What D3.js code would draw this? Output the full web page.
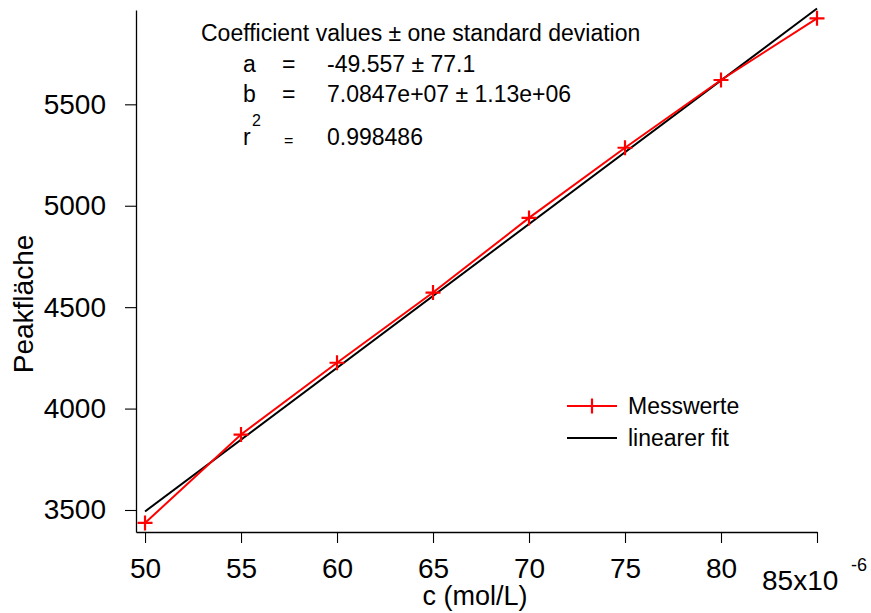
<!DOCTYPE html>
<html>
<head>
<meta charset="utf-8">
<script src="https://cdn.jsdelivr.net/npm/d3@7"></script>
<style>
html,body{margin:0;padding:0;background:#fff;}
svg{display:block;font-family:"Liberation Sans",Arial,Helvetica,sans-serif;}
</style>
</head>
<body>
<svg id="chart" width="871" height="613"></svg>
<script>
// Data (concentration in units of 1e-6 mol/L)
const concentrations = [50, 55, 60, 65, 70, 75, 80, 85];
const peakAreas = [3436, 3872, 4226, 4572, 4940, 5286, 5620, 5924];
const fitA = -49.557;
const fitB = 7.0847e7;
const xTicks = [50, 55, 60, 65, 70, 75, 80, 85];
const yTicks = [3500, 4000, 4500, 5000, 5500];
const coefLines = [
  {name: "a", value: "-49.557 \u00b1 77.1"},
  {name: "b", value: "7.0847e+07 \u00b1 1.13e+06"}
];
const r2Value = "0.998486";
const legendItems = [
  {label: "Messwerte", color: "#ff0000", marker: true},
  {label: "linearer fit", color: "#000000", marker: false}
];

const svg = d3.select("#chart");
const x = d3.scaleLinear().domain([49.53, 85]).range([136, 817]);
const y = d3.scaleLinear().domain([3391.5, 5965]).range([532, 10]);

// Axes
const xAxis = d3.axisBottom(x).tickValues(xTicks).tickSizeInner(11).tickSizeOuter(0)
  .tickPadding(10).tickFormat(d => d === 85 ? "" : d);
const gx = svg.append("g").attr("transform", "translate(0,532)").call(xAxis);
gx.select(".domain").attr("stroke", "#000").attr("stroke-width", 1.3);
gx.selectAll(".tick line").attr("stroke", "#000").attr("stroke-width", 1.1);
gx.selectAll(".tick text").attr("font-size", 28).attr("fill", "#000")
  .attr("dy", null).attr("y", 46);

const yAxis = d3.axisLeft(y).tickValues(yTicks).tickSizeInner(11).tickSizeOuter(0)
  .tickPadding(19).tickFormat(d => d);
const gy = svg.append("g").attr("transform", "translate(136,0)").call(yAxis);
gy.select(".domain").attr("stroke", "#000").attr("stroke-width", 1.3);
gy.selectAll(".tick line").attr("stroke", "#000").attr("stroke-width", 1.1);
gy.selectAll(".tick text").attr("font-size", 28).attr("fill", "#000");

// 85x10^-6 label
svg.append("text").attr("x", 762).attr("y", 590)
  .attr("font-size", 28).text("85x10");
svg.append("text").attr("x", 851).attr("y", 571)
  .attr("font-size", 18).text("-6");

// Axis titles
svg.append("text").attr("x", 475).attr("y", 605).attr("text-anchor", "middle")
  .attr("font-size", 27).text("c (mol/L)");
svg.append("text").attr("transform", "translate(33,304) rotate(-90)")
  .attr("text-anchor", "middle").attr("font-size", 28).text("Peakfläche");

// Fit line
const fitPts = [concentrations[0], concentrations[concentrations.length - 1]]
  .map(c => [c, fitA + fitB * c * 1e-6]);
const line = d3.line().x(d => x(d[0])).y(d => y(d[1]));
svg.append("path").datum(fitPts).attr("d", line)
  .attr("fill", "none").attr("stroke", "#000").attr("stroke-width", 2);

// Data line
const data = concentrations.map((c, i) => [c, peakAreas[i]]);
svg.append("path").datum(data).attr("d", line)
  .attr("fill", "none").attr("stroke", "#ff0000").attr("stroke-width", 2);
const plus = (g, cx, cy) => {
  g.append("path").attr("d", `M${cx - 7.5},${cy}H${cx + 7.5}M${cx},${cy - 7.5}V${cy + 7.5}`)
    .attr("stroke", "#ff0000").attr("stroke-width", 2.2).attr("fill", "none");
};
const markers = svg.append("g");
data.forEach(d => plus(markers, x(d[0]), y(d[1])));

// Coefficient annotation
const ann = svg.append("g").attr("font-size", 23).attr("fill", "#000");
ann.append("text").attr("x", 201).attr("y", 41).text("Coefficient values \u00b1 one standard deviation");
coefLines.forEach((c, i) => {
  const by = 72 + i * 30;
  ann.append("text").attr("x", 243).attr("y", by).text(c.name);
  ann.append("text").attr("x", 282).attr("y", by).text("=");
  ann.append("text").attr("x", 327).attr("y", by).text(c.value);
});
ann.append("text").attr("x", 243).attr("y", 145).text("r");
ann.append("text").attr("x", 252).attr("y", 126).attr("font-size", 16).text("2");
ann.append("text").attr("x", 284).attr("y", 146).attr("font-size", 16).text("=");
ann.append("text").attr("x", 327).attr("y", 145).text(r2Value);

// Legend
const leg = svg.append("g");
legendItems.forEach((it, i) => {
  const ly = 406 + i * 32;
  leg.append("line").attr("x1", 567).attr("x2", 617).attr("y1", ly).attr("y2", ly)
    .attr("stroke", it.color).attr("stroke-width", 2);
  if (it.marker) plus(leg, 592, ly);
  leg.append("text").attr("x", 628).attr("y", ly + 8).attr("font-size", 23).text(it.label);
});
</script>
</body>
</html>
